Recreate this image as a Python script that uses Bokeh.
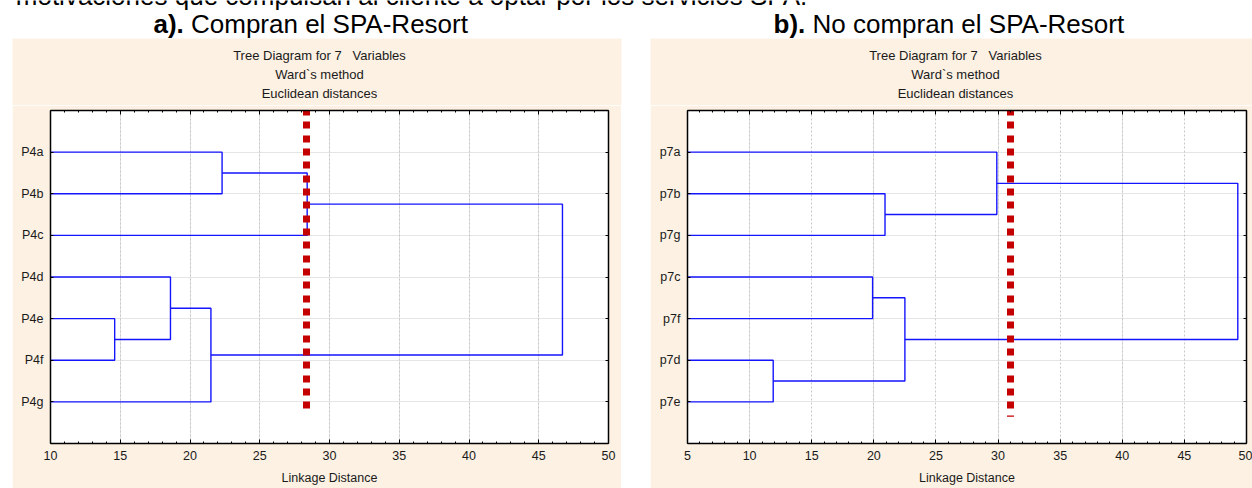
from bokeh.plotting import figure
from bokeh.layouts import column, row
from bokeh.models import (Range1d, LinearAxis, FixedTicker, SingleIntervalTicker,
                          Spacer, Grid, CustomJSTickFormatter)
from bokeh.core.properties import value
from bokeh.embed import file_html
from bokeh.resources import INLINE

# ---------------- data ----------------
page_heading = "motivaciones que compulsan al cliente a optar por los servicios SPA."
panel_tags = ["a).", "b)."]
panel_titles = ["Compran el SPA-Resort", "No compran el SPA-Resort"]
sub_titles = ["Tree Diagram for 7   Variables", "Ward`s method", "Euclidean distances"]
x_label = "Linkage Distance"

# panel a: leaves (top to bottom) and merges (scipy-like ids: leaves 0..6, merges 7..)
leaves_a = ["P4a", "P4b", "P4c", "P4d", "P4e", "P4f", "P4g"]
merge_left_a = [4, 3, 8, 0, 10, 11]
merge_right_a = [5, 7, 6, 1, 2, 9]
merge_dist_a = [14.6, 18.6, 21.5, 22.3, 28.4, 46.7]
cut_a = 28.35
x_lim_a = (10, 50)

# panel b
leaves_b = ["p7a", "p7b", "p7g", "p7c", "p7f", "p7d", "p7e"]
merge_left_b = [5, 3, 1, 8, 0, 11]
merge_right_b = [6, 4, 2, 7, 9, 10]
merge_dist_b = [11.9, 19.9, 20.9, 22.5, 29.9, 49.3]
cut_b = 31.0
x_lim_b = (5, 50)

# ---------------- style ----------------
FONT = "Liberation Sans"
BEIGE = "#FCF1E3"
BLUE = "#1414FF"
RED = "#C40000"
TXT = "#1a1a1a"


def dendro_paths(n, lefts, rights, dists, x0):
    node_x = [x0] * n
    node_y = [i + 1 for i in range(n)]
    xs, ys = [], []
    for l, r, d in zip(lefts, rights, dists):
        xs.append([node_x[l], d, d, node_x[r]])
        ys.append([node_y[l], node_y[l], node_y[r], node_y[r]])
        node_x.append(d)
        node_y.append((node_y[l] + node_y[r]) / 2)
    return xs, ys


def empty_fmt():
    return CustomJSTickFormatter(code="return ''")


def panel(leaves, lefts, rights, dists, cut, xlim, cut_end, width, mbl, mbr):
    p = figure(width=width, height=383, x_range=Range1d(*xlim), y_range=Range1d(len(leaves) + 1, 0),
               output_backend="svg", toolbar_location=None,
               min_border_left=mbl, min_border_right=mbr, min_border_top=5, min_border_bottom=45,
               x_axis_location=None, y_axis_location=None)
    p.border_fill_color = BEIGE
    p.background_fill_color = "white"
    p.outline_line_color = None

    xt = SingleIntervalTicker(interval=5, num_minor_ticks=5)
    yt = FixedTicker(ticks=list(range(1, len(leaves) + 1)))

    p.add_layout(Grid(dimension=0, ticker=xt, grid_line_color="#C8C8C8",
                      grid_line_dash="2 2", grid_line_width=1))

    common = dict(axis_line_color="black", axis_line_width=1.5,
                  major_tick_line_color="black", minor_tick_line_color="black",
                  major_tick_out=0, minor_tick_out=0,
                  major_label_text_font=FONT, major_label_text_font_size="12.5px",
                  major_label_text_color=TXT)

    bottom = LinearAxis(ticker=xt, axis_label=x_label, major_tick_in=4, minor_tick_in=2,
                        major_label_standoff=7, axis_label_standoff=8,
                        axis_label_text_font=FONT, axis_label_text_font_size="12.5px",
                        axis_label_text_font_style="normal", axis_label_text_color=TXT, **common)
    p.add_layout(bottom, "below")
    top = LinearAxis(ticker=xt, major_tick_in=4, minor_tick_in=2, formatter=empty_fmt(),
                     major_label_standoff=0, **common)
    p.add_layout(top, "above")

    left = LinearAxis(ticker=yt, major_tick_in=3, minor_tick_in=0, major_label_standoff=7,
                      major_label_overrides={i + 1: n for i, n in enumerate(leaves)}, **common)
    p.add_layout(left, "left")
    right = LinearAxis(ticker=yt, major_tick_in=3, minor_tick_in=0, formatter=empty_fmt(),
                       major_label_standoff=0, **common)
    p.add_layout(right, "right")

    xs, ys = dendro_paths(len(leaves), lefts, rights, dists, xlim[0])
    p.multi_line(xs=xs, ys=ys, line_color=BLUE, line_width=1.4)

    p.line(x=[cut, cut], y=[-0.05, cut_end], line_color=RED, line_width=7,
           line_dash="7 6 7 7 7 6")
    return p


# ---------------- header ----------------
hdr = figure(width=1252, height=105, x_range=Range1d(0, 1252), y_range=Range1d(105, 0),
             output_backend="svg", toolbar_location=None, min_border=0,
             x_axis_location=None, y_axis_location=None)
hdr.outline_line_color = None
hdr.xgrid.visible = False
hdr.ygrid.visible = False
hdr.background_fill_color = "white"
hdr.border_fill_color = "white"

hdr.quad(left=[12, 650], right=[621, 1252], top=[38, 38], bottom=[105, 105],
         fill_color=BEIGE, line_color=None)

hdr.text(x=[411], y=[-5], text=[page_heading], text_font=value(FONT), text_font_size="26px",
         text_align="center", text_baseline="middle", text_color="black")
hdr.text(x=[153, 773], y=[23, 23], text=panel_tags, text_font=value(FONT),
         text_font_size="26px", text_font_style="bold", text_align="left",
         text_baseline="middle", text_color="black")
hdr.text(x=[190.5, 812], y=[23, 23], text=panel_titles, text_font=value(FONT),
         text_font_size="26px", text_align="left", text_baseline="middle", text_color="black")

shown_subs = [s.replace("   ", " \u00a0 ") for s in sub_titles]
for cx in (319, 955):
    hdr.text(x=[cx] * 3, y=[55, 74, 93], text=shown_subs, text_font=value(FONT),
             text_font_size="13px", text_align="center", text_baseline="middle", text_color=TXT)

# ---------------- panels ----------------
p1 = panel(leaves_a, merge_left_a, merge_right_a, merge_dist_a, cut_a, x_lim_a, 7.17, 609, 38, 13)
p2 = panel(leaves_b, merge_left_b, merge_right_b, merge_dist_b, cut_b, x_lim_b, 7.36, 602, 37, 6)

layout = column(hdr,
                row(Spacer(width=12, height=383), p1, Spacer(width=29, height=383), p2))

open("out.html", "w").write(file_html(layout, INLINE))
